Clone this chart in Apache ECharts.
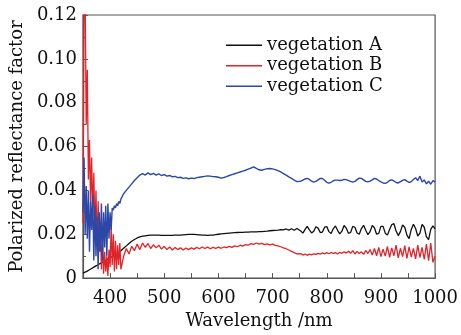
<!DOCTYPE html>
<html>
<head>
<meta charset="utf-8">
<script src="https://cdn.jsdelivr.net/npm/echarts@6/dist/echarts.min.js"></script>
<style>
  html, body { margin: 0; padding: 0; background: #fff; }
  #chart { width: 461px; height: 335px; }
</style>
</head>
<body>
<div id="chart"></div>
<script>
// wavelength samples (nm)
const wavelengths = [
  350, 352, 354, 356, 358, 360, 362, 364, 366, 368, 370, 372, 374, 376, 378, 380, 382, 384,
  386, 388, 390, 392, 394, 396, 398, 400, 402, 404, 406, 408, 410, 412, 414, 416, 418, 420,
  425, 430, 435, 440, 445, 450, 455, 460, 465, 470, 475, 480, 485, 490, 495, 500, 505, 510,
  515, 520, 525, 530, 535, 540, 545, 550, 555, 560, 565, 570, 575, 580, 585, 590, 595, 600,
  605, 610, 615, 620, 625, 630, 635, 640, 645, 650, 655, 660, 665, 670, 675, 680, 685, 690,
  695, 700, 705, 710, 715, 720, 725, 730, 735, 740, 745,
  748, 752, 756, 760, 764, 768, 772, 776, 780, 784, 788, 792, 796, 800, 804, 808, 812, 816,
  820, 824, 828, 832, 836, 840, 844, 848, 852, 856, 860, 864, 868, 872, 876, 880, 884, 888,
  892, 896, 900, 904, 908, 912, 916, 920, 924, 928, 932, 936, 940, 944, 948, 952, 956, 960,
  964, 968, 972, 976, 980, 984, 988, 992, 996, 1000
];

const vegetationA = [
  0.0022, 0.0025, 0.0027, 0.0030, 0.0032, 0.0035, 0.0038, 0.0041, 0.0044, 0.0047, 0.0050, 0.0053,
  0.0056, 0.0058, 0.0061, 0.0064, 0.0067, 0.0070, 0.0072, 0.0075, 0.0078, 0.0081, 0.0084, 0.0086,
  0.0089, 0.0092, 0.0095, 0.0098, 0.0100, 0.0103, 0.0106, 0.0110, 0.0113, 0.0117, 0.0120, 0.0124,
  0.0136, 0.0147, 0.0158, 0.0168, 0.0176, 0.0183, 0.0188, 0.0191, 0.0193, 0.0195, 0.0196, 0.0196,
  0.0196, 0.0196, 0.0195, 0.0195, 0.0195, 0.0195, 0.0195, 0.0196, 0.0196, 0.0196, 0.0197, 0.0198,
  0.0199, 0.0199, 0.0199, 0.0198, 0.0197, 0.0196, 0.0196, 0.0195, 0.0196, 0.0196, 0.0198, 0.0200,
  0.0202, 0.0203, 0.0204, 0.0205, 0.0206, 0.0207, 0.0208, 0.0209, 0.0209, 0.0210, 0.0210, 0.0211,
  0.0211, 0.0211, 0.0212, 0.0212, 0.0213, 0.0214, 0.0216, 0.0217, 0.0218, 0.0219, 0.0221, 0.0220,
  0.0224, 0.0219, 0.0225, 0.0218, 0.0226,
  0.0232, 0.0215, 0.0205, 0.0222, 0.0236, 0.0220, 0.0206, 0.0214, 0.0234, 0.0228, 0.0208, 0.0210,
  0.0232, 0.0235, 0.0212, 0.0203, 0.0225, 0.0238, 0.0218, 0.0202, 0.0214, 0.0240, 0.0228, 0.0204,
  0.0208, 0.0236, 0.0232, 0.0206, 0.0200, 0.0226, 0.0241, 0.0218, 0.0198, 0.0212, 0.0240, 0.0230,
  0.0200, 0.0204, 0.0236, 0.0236, 0.0205, 0.0196, 0.0222, 0.0244, 0.0248, 0.0215, 0.0194, 0.0212,
  0.0242, 0.0232, 0.0196, 0.0180, 0.0222, 0.0246, 0.0226, 0.0192, 0.0205, 0.0245, 0.0232, 0.0188,
  0.0176, 0.0222, 0.0238, 0.0224
];

const vegetationB = [
  0.025, 0.125, 0.130, 0.070, 0.095, 0.045, 0.063, 0.035, 0.055, 0.028, 0.048, 0.020,
  0.040, 0.015, 0.035, 0.012, 0.025, 0.004, 0.018, 0.002, 0.012, 0.003, 0.010, 0.001,
  0.013, 0.005, 0.024, 0.006, 0.020, 0.003, 0.017, 0.004, 0.015, 0.006, 0.016, 0.004,
  0.0100, 0.0135, 0.0110, 0.0145, 0.0125, 0.0155, 0.0130, 0.0160, 0.0140, 0.0158, 0.0135, 0.0152,
  0.0138, 0.0150, 0.0132, 0.0145, 0.0130, 0.0142, 0.0128, 0.0140, 0.0130, 0.0138, 0.0128, 0.0137,
  0.0130, 0.0138, 0.0132, 0.0140, 0.0134, 0.0142, 0.0135, 0.0141, 0.0134, 0.0140, 0.0136, 0.0141,
  0.0136, 0.0142, 0.0139, 0.0145, 0.0140, 0.0147, 0.0143, 0.0150, 0.0146, 0.0153, 0.0150, 0.0157,
  0.0154, 0.0160, 0.0155, 0.0158, 0.0153, 0.0156, 0.0152, 0.0155, 0.0149, 0.0147, 0.0143, 0.0138,
  0.0134, 0.0128, 0.0122, 0.0116, 0.0110,
  0.0107, 0.0112, 0.0105, 0.0110, 0.0104, 0.0109, 0.0106, 0.0111, 0.0108, 0.0113, 0.0109, 0.0115,
  0.0110, 0.0116, 0.0111, 0.0117, 0.0112, 0.0116, 0.0110, 0.0118, 0.0113, 0.0120, 0.0114, 0.0122,
  0.0113, 0.0125, 0.0110, 0.0122, 0.0112, 0.0120, 0.0108, 0.0126, 0.0112, 0.0130, 0.0105, 0.0135,
  0.0102, 0.0140, 0.0098, 0.0132, 0.0100, 0.0145, 0.0095, 0.0138, 0.0102, 0.0150, 0.0092, 0.0136,
  0.0098, 0.0148, 0.0090, 0.0142, 0.0096, 0.0135, 0.0088, 0.0150, 0.0094, 0.0140, 0.0085, 0.0155,
  0.0080, 0.0160, 0.0072, 0.0100
];

const vegetationC = [
  0.030, 0.055, 0.020, 0.042, 0.018, 0.040, 0.012, 0.035, 0.022, 0.038, 0.008, 0.033,
  0.010, 0.028, 0.004, 0.030, 0.012, 0.034, 0.008, 0.030, 0.014, 0.033, 0.010, 0.034,
  0.018, 0.030, 0.022, 0.032, 0.031, 0.033, 0.032, 0.034, 0.033, 0.035, 0.034, 0.036,
  0.0385, 0.0400, 0.0415, 0.0430, 0.0445, 0.0458, 0.0470, 0.0476, 0.0470, 0.0480, 0.0472, 0.0478,
  0.0470, 0.0475, 0.0468, 0.0472, 0.0465, 0.0468, 0.0462, 0.0464, 0.0458, 0.0460, 0.0455, 0.0457,
  0.0453, 0.0456, 0.0454, 0.0458, 0.0460, 0.0462, 0.0464, 0.0466, 0.0465, 0.0463, 0.0462, 0.0460,
  0.0456, 0.0459, 0.0463, 0.0468, 0.0472, 0.0476, 0.0480, 0.0484, 0.0488, 0.0492, 0.0497, 0.0502,
  0.0507, 0.0500, 0.0494, 0.0492, 0.0496, 0.0499, 0.0500, 0.0498, 0.0495, 0.0490, 0.0484, 0.0477,
  0.0470, 0.0462, 0.0455, 0.0447, 0.0440,
  0.0440, 0.0442, 0.0447, 0.0452, 0.0455, 0.0450, 0.0442, 0.0438, 0.0441, 0.0448, 0.0455, 0.0454,
  0.0446, 0.0437, 0.0433, 0.0437, 0.0444, 0.0447, 0.0447, 0.0445, 0.0446, 0.0450, 0.0449, 0.0445,
  0.0441, 0.0438, 0.0441, 0.0449, 0.0456, 0.0455, 0.0448, 0.0441, 0.0439, 0.0442, 0.0448, 0.0455,
  0.0452, 0.0445, 0.0439, 0.0434, 0.0432, 0.0437, 0.0445, 0.0448, 0.0443, 0.0436, 0.0434, 0.0440,
  0.0446, 0.0449, 0.0442, 0.0436, 0.0440, 0.0450, 0.0458, 0.0445, 0.0465, 0.0438, 0.0448, 0.0430,
  0.0442, 0.0428, 0.0445, 0.0438
];

const xTickLabels = ['400', '500', '600', '700', '800', '900', '1000'];
const yTickLabels = ['0', '0.02', '0.04', '0.06', '0.08', '0.10', '0.12'];

const font = 'DejaVu Serif';
const ink = '#111';
const frame = '#555';

function pairs(values) {
  return wavelengths.map((w, i) => [w, values[i]]);
}

const chart = echarts.init(document.getElementById('chart'));
chart.setOption({
  animation: false,
  backgroundColor: '#fff',
  grid: {
    left: 78, right: 23, top: 15, bottom: 52,
    show: true, borderColor: frame, borderWidth: 1.2, backgroundColor: 'transparent'
  },
  legend: {
    orient: 'vertical',
    left: 221,
    top: 30,
    icon: 'rect',
    itemWidth: 36,
    itemHeight: 1.5,
    itemGap: 0,
    textStyle: { fontFamily: font, fontSize: 18, color: ink, lineHeight: 20.5 },
    data: ['vegetation A', 'vegetation B', 'vegetation C']
  },
  xAxis: {
    type: 'value',
    min: 350, max: 1000, interval: 50,
    name: 'Wavelength /nm',
    nameLocation: 'middle',
    nameGap: 31,
    nameTextStyle: { fontFamily: font, fontSize: 18, color: ink },
    axisLine: { lineStyle: { color: frame, width: 1.2 } },
    axisTick: { inside: true, length: 5, lineStyle: { color: frame } },
    axisLabel: {
      margin: 11, fontFamily: font, fontSize: 18, color: ink,
      formatter: v => xTickLabels.includes(String(v)) ? String(v) : ''
    },
    splitLine: { show: false }
  },
  yAxis: {
    type: 'value',
    min: 0, max: 0.12, interval: 0.02,
    name: 'Polarized reflectance factor',
    nameLocation: 'middle',
    nameGap: 8,
    nameTextStyle: { fontFamily: font, fontSize: 18, color: ink },
    axisLine: { show: true, lineStyle: { color: frame, width: 1.2 } },
    axisTick: { show: true, inside: true, length: 5, lineStyle: { color: frame } },
    minorTick: { show: true, splitNumber: 2, length: 3, lineStyle: { color: frame } },
    axisLabel: {
      margin: 6, fontFamily: font, fontSize: 18, color: ink,
      formatter: v => yTickLabels[Math.round(v / 0.02)]
    },
    splitLine: { show: false }
  },
  series: [
    {
      name: 'vegetation A', type: 'line', showSymbol: false, data: pairs(vegetationA),
      color: '#111', lineStyle: { color: '#111', width: 1.3 }
    },
    {
      name: 'vegetation B', type: 'line', showSymbol: false, data: pairs(vegetationB),
      color: '#e3232a', lineStyle: { color: '#e3232a', width: 1.3 }
    },
    {
      name: 'vegetation C', type: 'line', showSymbol: false, data: pairs(vegetationC),
      color: '#2b48a8', lineStyle: { color: '#2b48a8', width: 1.4 }
    }
  ]
});
</script>
</body>
</html>
